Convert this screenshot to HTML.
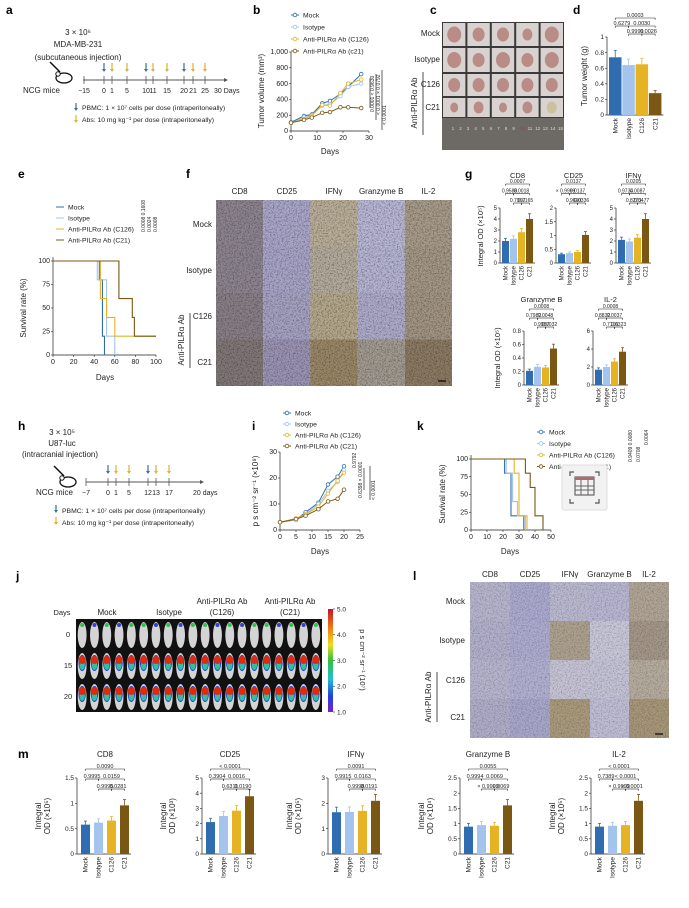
<!DOCTYPE html>
<html><head><meta charset="utf-8"><style>
html,body{margin:0;padding:0;background:#fff;}
svg{display:block;font-family:"Liberation Sans",sans-serif;}
</style></head><body>
<svg id="fig" width="689" height="908" viewBox="0 0 689 908" xmlns="http://www.w3.org/2000/svg">
<defs>
<filter id="nz" x="0" y="0" width="100%" height="100%"><feTurbulence type="fractalNoise" baseFrequency="0.75" numOctaves="3" seed="4"/><feColorMatrix type="matrix" values="0 0 0 0 0  0 0 0 0 0  0 0 0 0 0  0 0 0 -2.4 1.35"/></filter>
<linearGradient id="cbar" x1="0" y1="0" x2="0" y2="1"><stop offset="0" stop-color="#c8102e"/><stop offset="0.18" stop-color="#f07a10"/><stop offset="0.35" stop-color="#e8e020"/><stop offset="0.5" stop-color="#30c040"/><stop offset="0.68" stop-color="#20c0d0"/><stop offset="0.85" stop-color="#2040e0"/><stop offset="1" stop-color="#7a20c8"/></linearGradient>
</defs>
</svg>
<script>
// ---------- DATA ----------
const groupNames=['Mock','Isotype','C126','C21'];
const groupColors=['#2f6db0','#a3c4ec','#e6b325','#7b5714'];
// b tumour volume
const bDays=[0,5,8,12,15,19,22,27];
const bMock=[110,190,210,350,380,470,560,720];
const bIsotype=[100,170,200,320,340,440,560,600];
const bC126=[105,150,190,330,320,480,600,650];
const bC21=[105,140,170,230,240,300,300,290];
const bTicks=[0,200,400,600,800,1000];
const bTickLabels=['0','200','400','600','800','1,000'];
const bXTicks=[0,10,20,30];
// d tumour weight
const dValues=[0.74,0.64,0.65,0.28];
const dTicks=[0,0.2,0.4,0.6,0.8,1.0];
// e survival (day, percent)
const eMock=[[0,100],[45,80],[48,20],[50,0]];
const eIsotype=[[0,100],[43,80],[52,20],[60,0]];
const eC126=[[0,100],[42,100],[46,60],[52,40],[60,20],[100,20]];
const eC21=[[0,100],[64,60],[77,40],[79,20],[100,20]];
const eXTicks=[0,20,40,60,80,100];
const survTicks=[0,25,50,75,100];
// g
const gCD8=[2.0,2.2,2.8,4.0];   const gCD8Ticks=[0,1,2,3,4,5];
const gCD25=[0.32,0.36,0.4,1.02]; const gCD25Ticks=[0,0.5,1.0,1.5,2.0];
const gIFNg=[2.1,1.95,2.3,4.0]; const gIFNgTicks=[0,1,2,3,4,5];
const gGzmB=[0.21,0.27,0.26,0.54]; const gGzmBTicks=[0,0.2,0.4,0.6,0.8];
const gIL2=[1.7,2.0,2.6,3.7]; const gIL2Ticks=[0,2,4,6];
// i bioluminescence
const iDays=[0,5,8,12,15,18,20];
const iMock=[3,4,6.8,10.5,17.5,20.5,24.5];
const iIsotype=[3,3.8,6,10,15,18.5,23];
const iC126=[3,4.5,6,9,14,19,22];
const iC21=[3,4.2,5.5,8,11,12,15.5];
const iTicks=[0,10,20,30];
const iXTicks=[0,5,10,15,20,25];
// k survival
const kMock=[[0,100],[21,80],[25,20],[33,0]];
const kIsotype=[[0,100],[22,80],[26,40],[29,20],[34,0]];
const kC126=[[0,100],[27,80],[30,20],[35,0]];
const kC21=[[0,100],[34,80],[37,60],[40,20],[45,0]];
const kXTicks=[0,10,20,30,40,50];
// m
const mCD8=[0.58,0.62,0.66,0.96]; const mCD8Ticks=[0,0.5,1.0,1.5];
const mCD25=[2.1,2.5,2.85,3.8]; const mCD25Ticks=[0,1,2,3,4,5];
const mIFNg=[1.65,1.66,1.7,2.1]; const mIFNgTicks=[0,1,2,3];
const mGzmB=[0.9,0.95,0.93,1.6]; const mGzmBTicks=[0,0.5,1.0,1.5,2.0,2.5];
const mIL2=[0.9,0.93,0.95,1.75]; const mIL2Ticks=[0,0.5,1.0,1.5,2.0,2.5];

// ---------- HELPERS ----------
const NS='http://www.w3.org/2000/svg';
const svg=document.getElementById('fig');
function mk(tag,at,parent){const e=document.createElementNS(NS,tag);for(const k in at)e.setAttribute(k,at[k]);(parent||svg).appendChild(e);return e;}
function tx(x,y,s,at,parent){const e=mk('text',Object.assign({x:x,y:y,'font-size':7,fill:'#222'},at||{}),parent);e.textContent=s;return e;}
function rtx(x,y,s,at,parent){const e=tx(0,0,s,Object.assign({transform:'translate('+x+','+y+') rotate(-90)'},at||{}),parent);return e;}
function ln(x1,y1,x2,y2,c,w,parent){return mk('line',{x1:x1,y1:y1,x2:x2,y2:y2,stroke:c||'#222','stroke-width':w||0.7},parent);}
function fmtTick(t){return (Math.abs(t)<1e-9)?'0':(Number.isInteger(t)?String(t):t.toFixed(1));}
function letter(x,y,s){const e=tx(x,y,s,{'font-size':12,'font-weight':'bold',fill:'#000'});}

// ---------- BAR CHART ----------
function barChart(name,ax,y0,yT,max,ticks,vals,step,bw,title,tY,pv,pBase,pStep,fs,ylab,off){
  const o=(off===undefined)?2:off;
  const g=mk('g',{});
  
  
  const sy=v=>y0-(v/max)*(y0-yT);
  ln(ax,yT,ax,y0,'#222',0.7,g);
  ln(ax,y0,ax+o+3*step+bw+2,y0,'#222',0.7,g);
  ticks.forEach(t=>{ln(ax-2,sy(t),ax,sy(t),'#222',0.6,g);const tl=tx(ax-3,sy(t)+2.2,fmtTick(t),{'text-anchor':'end','font-size':fs},g);});
  vals.forEach((v,i)=>{
    const x=ax+o+i*step;
    const r=mk('rect',{x:x,y:sy(v),width:bw,height:y0-sy(v),fill:groupColors[i]},g);
    
    
    const e=v*0.12;
    ln(x+bw/2,sy(v+e),x+bw/2,sy(v),groupColors[i],0.8,g);
    ln(x+bw/2-1.5,sy(v+e),x+bw/2+1.5,sy(v+e),groupColors[i],0.8,g);
    const cl=rtx(x+bw/2+2.2,y0+3,groupNames[i],{'text-anchor':'end','font-size':fs},g);
    
    
  });
  if(title){
    const tt=tx(ax+o+1.5*step+bw/2,tY,title,{'text-anchor':'middle','font-size':fs+1.5},g);
    
    
  }
  pv.forEach(p=>{
    const y=pBase-p[2]*pStep;
    const xa=ax+o+p[0]*step+bw/2, xb=ax+o+p[1]*step+bw/2;
    ln(xa,y,xb,y,'#222',0.6,g);ln(xa,y,xa,y+1.8,'#222',0.6,g);ln(xb,y,xb,y+1.8,'#222',0.6,g);
    tx((xa+xb)/2,y-0.8,p[3],{'text-anchor':'middle','font-size':fs-1},g);
  });
  if(ylab){ylab.forEach((s,k)=>rtx(ax+(k==0?-36:-27),(y0+yT)/2,s,{'text-anchor':'middle','font-size':fs+1.5},g));}
}

// ---------- LINE / SURVIVAL ----------
function lineChart(name,ax,y0,xR,yT,xmax,ymax,days,series,xt,yt,ytl,fs){
  const sx=d=>ax+d/xmax*(xR-ax), sy=v=>y0-v/ymax*(y0-yT);
  const g=mk('g',{});
  
  
  ln(ax,yT,ax,y0,'#222',0.7,g);ln(ax,y0,xR,y0,'#222',0.7,g);
  yt.forEach((t,k)=>{ln(ax-2,sy(t),ax,sy(t),'#222',0.6,g);tx(ax-3,sy(t)+2.2,ytl[k],{'text-anchor':'end','font-size':fs},g);});
  xt.forEach(t=>{ln(sx(t),y0,sx(t),y0+2,'#222',0.6,g);tx(sx(t),y0+9,String(t),{'text-anchor':'middle','font-size':fs},g);});
  series.forEach((s,i)=>{
    const pts=days.map((d,k)=>sx(d)+','+sy(s[k])).join(' ');
    const pl=mk('polyline',{points:pts,fill:'none',stroke:groupColors[i],'stroke-width':1},g);
    
    
    days.forEach((d,k)=>{
      const c=mk('circle',{cx:sx(d),cy:sy(s[k]),r:1.8,fill:'#fff',stroke:groupColors[i],'stroke-width':0.8},g);
      
      
    });
  });
}
function survChart(name,ax,y0,xR,yT,xmax,series,xt,fs){
  const sx=d=>ax+d/xmax*(xR-ax), sy=v=>y0-v/100*(y0-yT);
  const g=mk('g',{});
  
  
  ln(ax,yT-4,ax,y0,'#222',0.7,g);ln(ax,y0,xR,y0,'#222',0.7,g);
  survTicks.forEach(t=>{ln(ax-2,sy(t),ax,sy(t),'#222',0.6,g);tx(ax-3,sy(t)+2.2,String(t),{'text-anchor':'end','font-size':fs},g);});
  xt.forEach(t=>{ln(sx(t),y0,sx(t),y0+2,'#222',0.6,g);tx(sx(t),y0+9,String(t),{'text-anchor':'middle','font-size':fs},g);});
  series.forEach((s,i)=>{
    let d='M'+sx(s[0][0])+','+sy(s[0][1]);
    for(let k=1;k<s.length;k++){d+=' H'+sx(s[k][0])+' V'+sy(s[k][1]);}
    const p=mk('path',{d:d,fill:'none',stroke:groupColors[i],'stroke-width':1.1},g);
    
    
  });
}
function legend(x,y,dy,labels,marker,fs){
  labels.forEach((s,i)=>{
    const yy=y+i*dy;
    ln(x-4,yy,x+4,yy,groupColors[i],1);
    if(marker)mk('circle',{cx:x,cy:yy,r:1.8,fill:'#fff',stroke:groupColors[i],'stroke-width':0.8});
    const t=tx(x+8,yy+2.4,s,{'font-size':fs});
    
    
  });
}
function arrow(x,y1,y2,c){ln(x,y1,x,y2-2,c,1.2);mk('path',{d:'M'+(x-2)+','+(y2-3)+' L'+(x+2)+','+(y2-3)+' L'+x+','+y2+'Z',fill:c});}
function mouse(x,y){
  mk('ellipse',{cx:x,cy:y,rx:8,ry:5,fill:'#fff',stroke:'#111','stroke-width':1.3});
  mk('circle',{cx:x-6,cy:y-4,r:2.2,fill:'#fff',stroke:'#111','stroke-width':1});
  ln(x-14,y-16,x-4,y-6,'#111',1.5);
}
function timeline(x0,x1,y,ticks,labels,blue,yellow,endLabel){
  ln(x0,y,x1,y,'#555',0.9);mk('path',{d:'M'+x1+','+(y-2)+' L'+(x1+4)+','+y+' L'+x1+','+(y+2)+'Z',fill:'#555'});
  ticks.forEach((t,k)=>{ln(t,y-4,t,y+4,'#555',0.8);tx(t,y+13,labels[k],{'text-anchor':'middle','font-size':7});});
  blue.forEach(t=>arrow(t,y-17,y-8,'#3b6ea5'));
  yellow.forEach(t=>arrow(t,y-17,y-8,'#e0b030'));
  tx(endLabel[0],y+13,endLabel[1],{'font-size':7});
}
function noiseTile(x,y,w,h,col,op){
  mk('rect',{x:x,y:y,width:w,height:h,fill:col});
  mk('rect',{x:x,y:y,width:w,height:h,fill:'#000',filter:'url(#nz)',opacity:op});
}

// ---------- PANEL a ----------
letter(6,14,'a');
tx(78,35,'3 × 10⁶',{'text-anchor':'middle','font-size':8});
tx(78,47,'MDA-MB-231',{'text-anchor':'middle','font-size':8});
tx(78,60,'(subcutaneous injection)',{'text-anchor':'middle','font-size':8});
mouse(64,78);
tx(23,93,'NCG mice',{'font-size':8});
timeline(83,224,80,[84,104,112,127,146,153,167,184,193,205],['−15','0','1','5','10','11','15','20','21','25'],[104,146,184],[112,127,153,167,193,205],[214,'30 Days']);
arrow(76,103,111,'#3b6ea5');tx(82,110,'PBMC: 1 × 10⁷ cells per dose (intraperitoneally)',{'font-size':6.8});
arrow(76,115,123,'#e0b030');tx(82,122,'Abs: 10 mg kg⁻¹ per dose (intraperitoneally)',{'font-size':6.8});

// ---------- PANEL b ----------
letter(253,14,'b');
legend(295,15,12,['Mock','Isotype','Anti-PILRα Ab (C126)','Anti-PILRα Ab (c21)'],true,6.8);
lineChart('tumor-volume',291,131,369,52,30,1000,bDays,[bMock,bIsotype,bC126,bC21],bXTicks,bTicks,bTickLabels,7);
rtx(264,91,'Tumor volume (mm³)',{'text-anchor':'middle','font-size':8});
tx(330,154,'Days',{'text-anchor':'middle','font-size':8});
ln(370,78,370,108);ln(376,74,376,120);ln(382,70,382,130);
rtx(374,112,'0.0001 < 0.9630',{'font-size':5,'text-anchor':'start'});
rtx(380,115,'< 0.0001 × 0.0792',{'font-size':5});
rtx(386,125,'< 0.0001',{'font-size':5});

// ---------- PANEL c ----------
letter(430,14,'c');
(function(){
  const cx0=442,cy0=22,cw=24.4,rows=[22,47,73,97,118];
  mk('rect',{x:cx0,y:cy0,width:122,height:96,fill:'#3a3a3a'});
  const sizes=[[6,5,5,4,6],[6,5,6,5,6],[5,5,5,5,5],[3,4,3,4,4]];
  for(let r=0;r<4;r++)for(let c=0;c<5;c++){
    const x=cx0+c*cw+1,y=rows[r]+1,h=rows[r+1]-rows[r]-2;
    mk('rect',{x:x,y:y,width:cw-2,height:h,fill:'#d8d3d0'});
    mk('ellipse',{cx:x+(cw-2)/2,cy:y+h/2,rx:sizes[r][c]+1,ry:sizes[r][c]+2,fill:(r==3&&c==4)?'#c9c29a':'#b98c86'});
  }
  mk('rect',{x:cx0,y:118,width:122,height:32,fill:'#6d6964'});
  for(let k=1;k<=15;k++)tx(cx0+2+k*7.6,130,String(k),{'font-size':4.5,fill:k==10?'#c03030':'#ddd'});
  [['Mock',36],['Isotype',62],['C126',87],['C21',110]].forEach(a=>{const t=tx(440,a[1],a[0],{'text-anchor':'end','font-size':8});});
  ln(423,72,423,135,'#222',0.8);
  rtx(417,103,'Anti-PILRα Ab',{'text-anchor':'middle','font-size':8});
})();

// ---------- PANEL d ----------
letter(573,14,'d');
barChart('tumor-weight',607,115,37,1.0,dTicks,dValues,13.3,12.5,'',0,[[0,3,2,'0.0003'],[0,1,1,'0.6279'],[1,3,1,'0.0030'],[1,2,0,'0.9999'],[2,3,0,'0.0026']],34,8,6.5,null,2);
rtx(587,76,'Tumor weight (g)',{'text-anchor':'middle','font-size':8});

// ---------- PANEL e ----------
letter(18,178,'e');
legend(60,207,11,['Mock','Isotype','Anti-PILRα Ab (C126)','Anti-PILRα Ab (C21)'],false,6.8);
survChart('survival-e',53,355,156,261,100,[eMock,eIsotype,eC126,eC21],eXTicks,7);
rtx(26,308,'Survival rate (%)',{'text-anchor':'middle','font-size':8});
tx(105,380,'Days',{'text-anchor':'middle','font-size':8});
rtx(145,232,'0.0008 0.1608',{'font-size':5});rtx(151,232,'0.0024',{'font-size':5});rtx(157,232,'0.0008',{'font-size':5});

// ---------- PANEL f ----------
letter(186,178,'f');
(function(){
  const x0=216,y0=200,w=47.2,h=46.5;
  const cols=[['#8e8590','#8e8590','#8a8088','#827878'],['#aba8cb','#a9a6c9','#a7a3c4','#9c95b5'],['#bbb09a','#b5ad9d','#b6a98d','#9b8868'],['#bab9d7','#b7b6d4','#afadcc','#a39c92'],['#a99d8c','#a59987','#a39684','#8d7b64']];
  const heads=['CD8','CD25','IFNγ','Granzyme B','IL-2'];
  for(let c=0;c<5;c++){for(let r=0;r<4;r++)noiseTile(x0+c*w,y0+r*h,w,h,cols[c][r],0.45);
    const t=tx(x0+c*w+w/2,194,heads[c],{'text-anchor':'middle','font-size':8});}
  ln(438,381,446,381,'#000',1.2);
  [['Mock',227],['Isotype',273],['C126',319],['C21',365]].forEach(a=>tx(212,a[1],a[0],{'text-anchor':'end','font-size':8}));
  ln(190,313,190,368,'#222',0.8);
  rtx(184,340,'Anti-PILRα Ab',{'text-anchor':'middle','font-size':8});
})();

// ---------- PANEL g ----------
letter(465,178,'g');
barChart('g-cd8',500,263,208,5,gCD8Ticks,gCD8,8,7,'CD8',178,[[0,3,2,'0.0007'],[0,1,1,'0.9588'],[1,3,1,'0.0018'],[1,2,0,'0.7067'],[2,3,0,'0.0165']],203,9.5,6,null,2);
barChart('g-cd25',556,263,208,2,gCD25Ticks,gCD25,8,7,'CD25',178,[[0,3,2,'0.0137'],[0,1,1,'× 0.9999'],[1,3,1,'0.0137'],[1,2,0,'0.9690'],[2,3,0,'0.0336']],203,9.5,6,null,2);
barChart('g-ifng',616,263,208,5,gIFNgTicks,gIFNg,8,7,'IFNγ',178,[[0,3,2,'0.0205'],[0,1,1,'0.9734'],[1,3,1,'0.0087'],[1,2,0,'0.8273'],[2,3,0,'0.0477']],203,9.5,6,null,2);
rtx(483,236,'Integral OD (×10⁵)',{'text-anchor':'middle','font-size':7.5});
barChart('g-granzyme-b',524,385,331,0.8,gGzmBTicks,gGzmB,8,7,'Granzyme B',302,[[0,3,2,'0.0008'],[0,1,1,'0.7982'],[1,3,1,'0.0048'],[1,2,0,'0.9987'],[2,3,0,'0.0032']],327,9,6,null,2);
barChart('g-il2',593,385,331,6,gIL2Ticks,gIL2,8,7,'IL-2',302,[[0,3,2,'0.0008'],[0,1,1,'0.8832'],[1,3,1,'0.0037'],[1,2,0,'0.7106'],[2,3,0,'0.0323']],327,9,6,null,2);
rtx(500,358,'Integral OD (×10⁵)',{'text-anchor':'middle','font-size':7.5});

// ---------- PANEL h ----------
letter(18,430,'h');
tx(62,435,'3 × 10⁵',{'text-anchor':'middle','font-size':8});
tx(62,446,'U87-luc',{'text-anchor':'middle','font-size':8});
tx(60,457,'(intracranial injection)',{'text-anchor':'middle','font-size':8});
mouse(68,482);
tx(36,495,'NCG mice',{'font-size':8});
timeline(86,200,482,[86,108,116,129,148,156,169],['−7','0','1','5','12','13','17'],[108,148],[116,129,156,169],[193,'20 days']);
arrow(56,505,513,'#3b6ea5');tx(62,513,'PBMC: 1 × 10⁷ cells per dose (intraperitoneally)',{'font-size':6.8});
arrow(56,517,525,'#e0b030');tx(62,525,'Abs: 10 mg kg⁻¹ per dose (intraperitoneally)',{'font-size':6.8});

// ---------- PANEL i ----------
letter(252,430,'i');
legend(287,413,11,['Mock','Isotype','Anti-PILRα Ab (C126)','Anti-PILRα Ab (C21)'],true,6.8);
lineChart('bioluminescence',280,530,360,452,25,30,iDays,[iMock,iIsotype,iC126,iC21],iXTicks,iTicks,['0','10','20','30'],7);
rtx(258,491,'p s cm⁻² sr⁻¹ (×10⁸)',{'text-anchor':'middle','font-size':8});
tx(320,554,'Days',{'text-anchor':'middle','font-size':8});
ln(364,468,364,490);ln(370,466,370,500);
rtx(356,468,'0.9792',{'font-size':5});rtx(362,498,'0.6398 × 0.0001',{'font-size':5});rtx(375,500,'< 0.0001',{'font-size':5});

// ---------- PANEL k ----------
letter(417,430,'k');
legend(541,432,11.5,['Mock','Isotype','Anti-PILRα Ab (C126)','Anti-PILRα Ab (C21)'],true,6.8);
survChart('survival-k',471,530,551,459,50,[kMock,kIsotype,kC126,kC21],kXTicks,7);
rtx(445,494,'Survival rate (%)',{'text-anchor':'middle','font-size':8});
tx(510,554,'Days',{'text-anchor':'middle','font-size':8});
rtx(632,462,'0.9409 0.0080',{'font-size':5});rtx(640,462,'0.0708',{'font-size':5});rtx(648,445,'0.0064',{'font-size':5});
(function(){
  const b=mk('rect',{x:562,y:465,width:45,height:45,fill:'#f2f2f2',stroke:'#ddd','stroke-width':1,rx:2});
  
  
  mk('rect',{x:575,y:477,width:19,height:18,fill:'none',stroke:'#666','stroke-width':1.2});
  mk('rect',{x:575,y:477,width:19,height:3,fill:'#b06a70'});
  ln(581,480,581,495,'#666',1);ln(588,480,588,495,'#666',1);ln(575,486,594,486,'#666',1);ln(575,490,594,490,'#666',1);
  [[570,472,1,1],[599,472,-1,1],[570,503,1,-1],[599,503,-1,-1]].forEach(c=>mk('path',{d:'M'+c[0]+','+(c[1]+4*c[3])+' V'+c[1]+' H'+(c[0]+4*c[2]),fill:'none',stroke:'#555','stroke-width':1.2}));
})();

// ---------- PANEL j ----------
letter(16,580,'j');
(function(){
  const x0=76,y0=619,w=246,h=93;
  mk('rect',{x:x0,y:y0,width:w,height:h,fill:'#111'});
  const n=20,cw=w/n,rowY=[634,665,696];
  const heads=['#30c050','#3040d0','#30c050','#3040d0','#30c050'];
  for(let r=0;r<3;r++)for(let c=0;c<n;c++){
    const cx=x0+cw*c+cw/2,cy=rowY[r];
    mk('ellipse',{cx:cx,cy:cy+1,rx:cw*0.36,ry:13,fill:'#d4d4d4'});
    if(r==0){mk('circle',{cx:cx,cy:cy-9,r:2,fill:heads[c%5]});}
    else{
      mk('ellipse',{cx:cx,cy:cy-2,rx:cw*0.3,ry:8,fill:'#2040d0'});
      mk('ellipse',{cx:cx,cy:cy,rx:cw*0.22,ry:5,fill:'#30c0a0'});
      mk('ellipse',{cx:cx,cy:cy-5,rx:cw*0.3,ry:4,fill:'#e02a10'});
    }
  }
  tx(62,615,'Days',{'text-anchor':'middle','font-size':7.5});
  [['0',637],['15',668],['20',699]].forEach(a=>tx(68,a[1],a[0],{'text-anchor':'middle','font-size':7.5}));
  tx(107,615,'Mock',{'text-anchor':'middle','font-size':8});
  tx(169,615,'Isotype',{'text-anchor':'middle','font-size':8});
  tx(222,604,'Anti-PILRα Ab',{'text-anchor':'middle','font-size':8});tx(222,615,'(C126)',{'text-anchor':'middle','font-size':8});
  tx(290,604,'Anti-PILRα Ab',{'text-anchor':'middle','font-size':8});tx(290,615,'(C21)',{'text-anchor':'middle','font-size':8});
  const cb=mk('rect',{x:328,y:609,width:5,height:103,fill:'url(#cbar)'});
  
  
  [['5.0',609],['4.0',634.75],['3.0',660.5],['2.0',686.25],['1.0',712]].forEach(a=>{ln(333,a[1],335,a[1],'#222',0.6);tx(337,a[1]+2.3,a[0],{'font-size':6.5});});
  tx(0,0,'p s cm⁻² sr⁻¹ (10⁷)',{'font-size':7.5,'text-anchor':'middle',transform:'translate(360,660) rotate(90)'});
})();

// ---------- PANEL l ----------
letter(413,580,'l');
(function(){
  const xs=[470,510,550,590,629,669],ys=[582,621,660,699,738];
  const cols=[['#b8b6cf','#b3b1cc','#b8b6cf','#b0aec9'],['#acabd0','#aeadd0','#b2b1d2','#a9a8cc'],['#bcbad1','#aea28f','#c7c5d6','#aa9b7d'],['#b9b8d3','#c9c8da','#c5c4d8','#c0bfd6'],['#b1a697','#a5988a','#b6ad9f','#a8987a']];
  const heads=['CD8','CD25','IFNγ','Granzyme B','IL-2'];
  for(let c=0;c<5;c++){for(let r=0;r<4;r++)noiseTile(xs[c],ys[r],xs[c+1]-xs[c],ys[r+1]-ys[r],cols[c][r],0.3);
    tx((xs[c]+xs[c+1])/2,577,heads[c],{'text-anchor':'middle','font-size':8});}
  ln(655,734,663,734,'#000',1.2);
  [['Mock',604],['Isotype',643],['C126',683],['C21',720]].forEach(a=>tx(465,a[1],a[0],{'text-anchor':'end','font-size':8}));
  ln(437,672,437,722,'#222',0.8);
  rtx(431,697,'Anti-PILRα Ab',{'text-anchor':'middle','font-size':8});
})();

// ---------- PANEL m ----------
letter(18,758,'m');
const mP=(a,b,c,d,e)=>[[0,3,2,a],[0,1,1,b],[1,3,1,c],[1,2,0,d],[2,3,0,e]];
barChart('m-cd8',77,854,778,1.5,mCD8Ticks,mCD8,13,9,'CD8',757,mP('0.0090','0.9995','0.0159','0.9995','0.0281'),789,10,6.5,['Integral','OD (×10⁵)'],4);
barChart('m-cd25',202,854,778,5,mCD25Ticks,mCD25,13,9,'CD25',757,mP('< 0.0001','0.3904','0.0016','0.6311','0.0190'),789,10,6.5,['Integral','OD (×10³)'],4);
barChart('m-ifng',328,854,778,3,mIFNgTicks,mIFNg,13,9,'IFNγ',757,mP('0.0091','0.9915','0.0163','0.9998','0.0191'),789,10,6.5,['Integral','OD (×10⁵)'],4);
barChart('m-granzyme-b',460,854,778,2.5,mGzmBTicks,mGzmB,13,9,'Granzyme B',757,mP('0.0055','0.9994','0.0069','× 0.9999','0.0069'),789,10,6.5,['Integral','OD (×10⁴)'],4);
barChart('m-il2',591,854,778,2.5,mIL2Ticks,mIL2,13,9,'IL-2',757,mP('< 0.0001','0.7389','< 0.0001','× 0.9999','< 0.0001'),789,10,6.5,['Integral','OD (×10⁵)'],4);
</script>
</body></html>
